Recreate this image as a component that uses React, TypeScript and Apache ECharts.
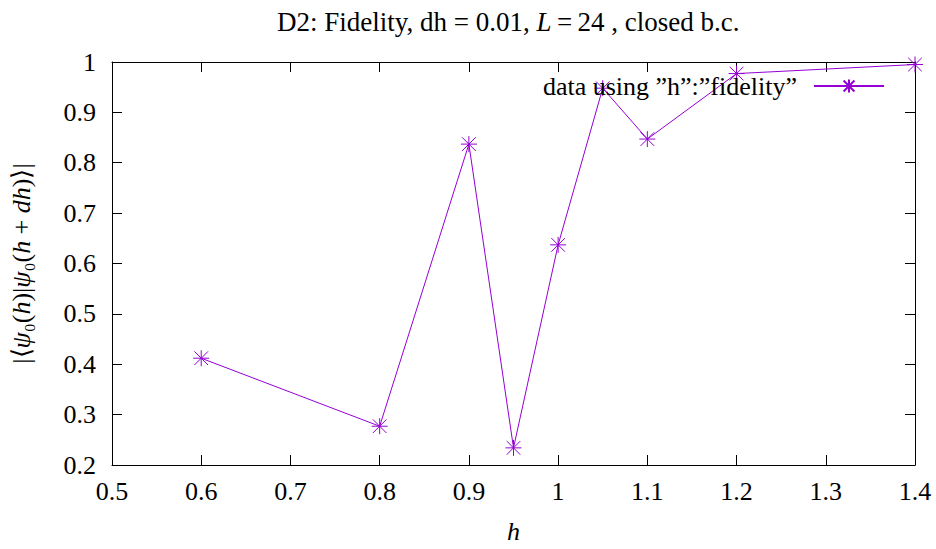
import React, { useEffect, useRef } from "react";
import * as echarts from "echarts";

// Fidelity |<psi0(h)|psi0(h+dh)>| sampled at a few field values h
const hValues = [0.6, 0.8, 0.9, 0.95, 1.0, 1.05, 1.1, 1.2, 1.4];
const fidelity = [0.412, 0.277, 0.837, 0.234, 0.637, 0.948, 0.847, 0.977, 0.995];

const xTicks = { min: 0.5, max: 1.4, interval: 0.1 };
const yTicks = { min: 0.2, max: 1.0, interval: 0.1 };

const seriesName = "data using \u201Dh\u201D:\u201Dfidelity\u201D";
const PURPLE = "#9400D3";
const FONT = "Liberation Serif";

// asterisk marker: plus overlaid with a cross
const STAR = "path://M10 0L10 20M0 10L20 10M1.5 1.5L18.5 18.5M1.5 18.5L18.5 1.5";

export default function App() {
  const ref = useRef<HTMLDivElement>(null);

  useEffect(() => {
    if (!ref.current) return;
    const chart = echarts.init(ref.current, undefined, { renderer: "svg" });

    const axisLine = { show: true, lineStyle: { color: "#000", width: 1 } };
    const axisTick = { show: true, inside: true, length: 10, lineStyle: { color: "#000", width: 1 } };

    chart.setOption({
      animation: false,
      backgroundColor: "#fff",
      textStyle: { fontFamily: FONT },
      title: {
        text: "D2: Fidelity, dh = 0.01, {it|L}\u2009=\u200924 , closed b.c.",
        left: 272,
        top: 3,
        textStyle: {
          fontFamily: FONT,
          fontSize: 27,
          fontWeight: "normal",
          color: "#000",
          rich: {
            it: { fontFamily: FONT, fontSize: 27, fontStyle: "italic", color: "#000" },
          },
        },
      },
      legend: {
        show: true,
        right: 51,
        top: 73,
        align: "right",
        padding: 0,
        itemWidth: 70,
        itemHeight: 16,
        textStyle: { fontFamily: FONT, fontSize: 26, color: "#000", padding: [0, 12, 0, 0] },
        data: [{ name: seriesName }],
      },
      grid: { left: 112, right: 21, top: 62, bottom: 83 },
      xAxis: [
        {
          type: "value",
          min: xTicks.min,
          max: xTicks.max,
          interval: xTicks.interval,
          position: "bottom",
          axisLine,
          axisTick,
          splitLine: { show: false },
          axisLabel: { fontFamily: FONT, fontSize: 26, color: "#000", margin: 13 },
          name: "h",
          nameLocation: "middle",
          nameGap: 53,
          nameTextStyle: { fontFamily: FONT, fontSize: 26, fontStyle: "italic", color: "#000" },
        },
        {
          type: "value",
          min: xTicks.min,
          max: xTicks.max,
          interval: xTicks.interval,
          position: "top",
          axisLine,
          axisTick,
          splitLine: { show: false },
          axisLabel: { show: false },
        },
      ],
      yAxis: [
        {
          type: "value",
          min: yTicks.min,
          max: yTicks.max,
          interval: yTicks.interval,
          position: "left",
          axisLine,
          axisTick,
          splitLine: { show: false },
          axisLabel: { fontFamily: FONT, fontSize: 26, color: "#000", margin: 16 },
          name: "|\u27E8{i|\u03C8}\u2080({i|h})|{i|\u03C8}\u2080({i|h} + {i|dh})\u27E9|",
          nameLocation: "middle",
          nameRotate: 90,
          nameGap: 78,
          nameTextStyle: {
            fontFamily: FONT,
            fontSize: 26,
            color: "#000",
            rich: {
              i: { fontFamily: FONT, fontSize: 26, fontStyle: "italic", color: "#000" },
            },
          },
        },
        {
          type: "value",
          min: yTicks.min,
          max: yTicks.max,
          interval: yTicks.interval,
          position: "right",
          axisLine,
          axisTick,
          splitLine: { show: false },
          axisLabel: { show: false },
        },
      ],
      series: [
        {
          name: seriesName,
          type: "line",
          data: hValues.map((h, i) => [h, fidelity[i]]),
          color: PURPLE,
          symbol: STAR,
          symbolSize: 16,
          showAllSymbol: true,
          lineStyle: { color: PURPLE, width: 1 },
          itemStyle: { color: "rgba(0,0,0,0)", borderColor: PURPLE, borderWidth: 1 },
          emphasis: { disabled: true },
        },
      ],
    });

    return () => chart.dispose();
  }, []);

  return <div ref={ref} style={{ width: 936, height: 549, position: "absolute", left: 0, top: 0 }} />;
}
